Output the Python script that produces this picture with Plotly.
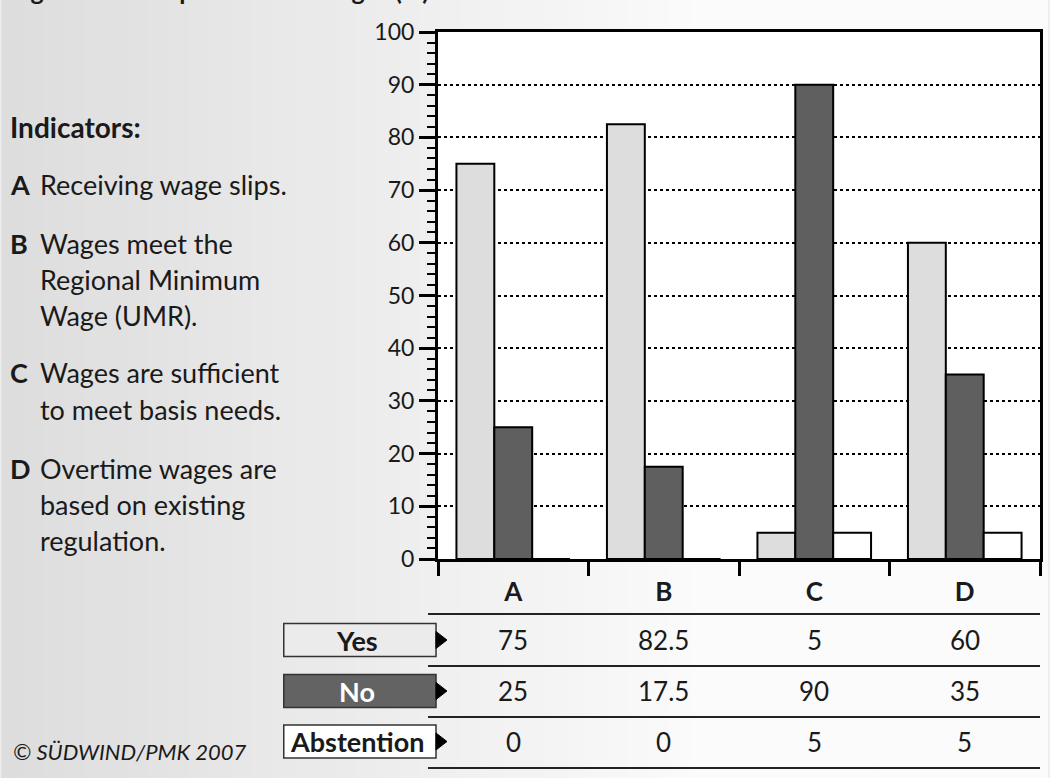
"""Wage indicators bar chart with answer table below."""

import plotly.graph_objects as go

categories = ["A", "B", "C", "D"]
yes_vals = [75, 82.5, 5, 60]
no_vals = [25, 17.5, 90, 35]
abst_vals = [0, 0, 5, 5]
y_ticks = list(range(0, 101, 10))

title_text = "Figure 10: Compliance with wages (%)"
indicator_lines = [
    ("A", ["Receiving wage slips."]),
    ("B", ["Wages meet the", "Regional Minimum", "Wage (UMR)."]),
    ("C", ["Wages are sufficient", "to meet basis needs."]),
    ("D", ["Overtime wages are", "based on existing", "regulation."]),
]

FONT = "Lato, 'Open Sans', sans-serif"
INK = "#1a1a1a"

# plot area in pixels
W_PX, H_PX = 1050, 778
L, R, T, B = 438, 1043, 32, 559


def px(x):
    return (x - L) / (R - L)


def py(y):
    return (B - y) / (B - T)


fig = go.Figure()

series = [
    ("Yes", yes_vals, "#dddddd"),
    ("No", no_vals, "#5f5f5f"),
    ("Abstention", abst_vals, "#ffffff"),
]
for name, vals, color in series:
    fig.add_trace(
        go.Bar(
            x=categories,
            y=vals,
            name=name,
            marker={"color": color, "line": {"color": "black", "width": 2}},
            showlegend=False,
        )
    )

shapes = []
# background gradient strips
n_strips = 50
step = W_PX / n_strips
for i in range(n_strips):
    x0 = i * step
    c = int(221 + 30 * min((x0 + step / 2) / 700, 1))
    shapes.append(
        {
            "type": "rect", "xref": "paper", "yref": "paper", "layer": "below",
            "x0": px(x0 - 1), "x1": px(x0 + step + 1), "y0": py(H_PX + 5), "y1": py(-5),
            "fillcolor": f"rgb({c},{c},{c})", "line": {"width": 0},
        }
    )
# white plot area
shapes.append(
    {
        "type": "rect", "xref": "paper", "yref": "paper", "layer": "below",
        "x0": 0, "x1": 1, "y0": 0, "y1": 1,
        "fillcolor": "white", "line": {"width": 0},
    }
)

# table rules
for ly in [614, 666, 717, 768]:
    shapes.append(
        {
            "type": "line", "xref": "paper", "yref": "paper",
            "x0": px(428), "x1": 1, "y0": py(ly), "y1": py(ly),
            "line": {"color": "#222222", "width": 2},
        }
    )

# table row label boxes
rows = [
    ("Yes", yes_vals, 640, "#ebebeb", INK),
    ("No", no_vals, 691, "#636363", "white"),
    ("Abstention", abst_vals, 741.5, "#ffffff", INK),
]
annotations = []
for label, vals, cy, fill, txt_color in rows:
    shapes.append(
        {
            "type": "rect", "xref": "paper", "yref": "paper",
            "x0": px(283), "x1": px(436), "y0": py(cy + 16.5), "y1": py(cy - 16.5),
            "fillcolor": fill, "line": {"color": "#333333", "width": 1.5},
        }
    )
    path = (
        f"M {px(436)},{py(cy - 8.5)} L {px(447)},{py(cy)} "
        f"L {px(436)},{py(cy + 8.5)} Z"
    )
    shapes.append(
        {
            "type": "path", "xref": "paper", "yref": "paper", "path": path,
            "fillcolor": "black", "line": {"color": "black", "width": 1},
        }
    )
    annotations.append(
        {
            "text": f"<b>{label}</b>", "xref": "paper", "yref": "paper",
            "x": px(357), "y": py(cy), "xanchor": "center", "yanchor": "middle",
            "showarrow": False, "font": {"family": FONT, "size": 27, "color": txt_color},
        }
    )
    for cat, v in zip(categories, vals):
        annotations.append(
            {
                "text": f"{v:g}", "xref": "x", "yref": "paper",
                "x": cat, "y": py(cy), "xanchor": "center", "yanchor": "middle",
                "showarrow": False, "font": {"family": FONT, "size": 26, "color": INK},
            }
        )

# left side indicator descriptions
annotations.append(
    {
        "text": "<b>Indicators:</b>", "xref": "paper", "yref": "paper",
        "x": px(6), "y": py(127), "xanchor": "left", "yanchor": "middle",
        "showarrow": False, "font": {"family": FONT, "size": 28, "color": INK},
    }
)
block_y = {"A": 185, "B": 243, "C": 373, "D": 468}
for letter, lines in indicator_lines:
    y0 = block_y[letter]
    annotations.append(
        {
            "text": f"<b>{letter}</b>", "xref": "paper", "yref": "paper",
            "x": px(6), "y": py(y0), "xanchor": "left", "yanchor": "middle",
            "showarrow": False, "font": {"family": FONT, "size": 27, "color": INK},
        }
    )
    for j, line in enumerate(lines):
        annotations.append(
            {
                "text": line, "xref": "paper", "yref": "paper",
                "x": px(36), "y": py(y0 + 36 * j), "xanchor": "left", "yanchor": "middle",
                "showarrow": False, "font": {"family": FONT, "size": 27, "color": INK},
            }
        )

# source note
annotations.append(
    {
        "text": "<i>© SÜDWIND/PMK 2007</i>", "xref": "paper", "yref": "paper",
        "x": px(9), "y": py(751), "xanchor": "left", "yanchor": "middle",
        "showarrow": False, "font": {"family": FONT, "size": 22, "color": INK},
    }
)

# title, mostly cut off at the top edge (as in the source graphic)
annotations.append(
    {
        "text": f"<b>{title_text}</b>", "xref": "paper", "yref": "paper",
        "x": px(6), "y": py(7), "xanchor": "left", "yanchor": "bottom",
        "showarrow": False, "font": {"family": FONT, "size": 25, "color": INK},
    }
)

fig.update_layout(
    width=W_PX,
    height=H_PX,
    margin={"l": L, "r": W_PX - R, "t": T, "b": H_PX - B},
    paper_bgcolor="#eeeeee",
    plot_bgcolor="rgba(0,0,0,0)",
    barmode="group",
    bargap=0.245,
    bargroupgap=0,
    font={"family": FONT, "color": INK},
    shapes=shapes,
    annotations=annotations,
    xaxis={
        "type": "category",
        "categoryorder": "array",
        "categoryarray": categories,
        "tickson": "boundaries",
        "ticks": "outside",
        "ticklen": 14,
        "tickwidth": 2.5,
        "tickcolor": "black",
        "showline": True,
        "linewidth": 3,
        "linecolor": "black",
        "mirror": True,
        "showgrid": False,
        "ticklabelstandoff": 8,
        "tickfont": {"family": FONT, "size": 26, "color": INK, "weight": "bold"},
    },
    yaxis={
        "range": [0, 100],
        "tickvals": y_ticks,
        "ticks": "outside",
        "ticklen": 16,
        "tickwidth": 2.5,
        "tickcolor": "black",
        "showline": True,
        "linewidth": 3,
        "linecolor": "black",
        "mirror": True,
        "zeroline": False,
        "showgrid": True,
        "gridcolor": "black",
        "griddash": "dot",
        "gridwidth": 1.5,
        "tickfont": {"family": FONT, "size": 23, "color": INK},
        "minor": {
            "dtick": 2,
            "ticks": "outside",
            "ticklen": 8,
            "tickwidth": 2,
            "tickcolor": "black",
            "showgrid": False,
        },
    },
)

# drop the browser's default body margin so the figure sits at the window corner
fig.write_html(
    "out.html",
    config={"displayModeBar": False},
    post_script="document.body.style.margin = '0';",
)
